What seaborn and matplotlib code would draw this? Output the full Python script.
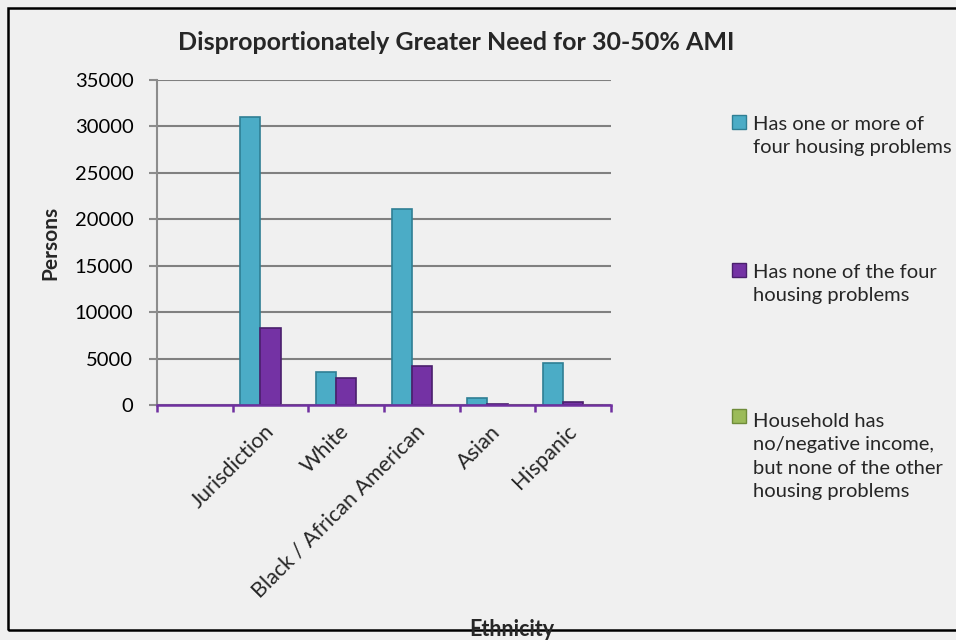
import numpy as np
import pandas as pd
import matplotlib
matplotlib.use("Agg")
import matplotlib.pyplot as plt
import seaborn as sns
from matplotlib.patches import Rectangle

# categories (first slot is left empty, as in the original chart)
ethnicity_order = ["", "Jurisdiction", "White", "Black / African American", "Asian", "Hispanic"]
groups = ["Jurisdiction", "White", "Black / African American", "Asian", "Hispanic"]

has_problems = [31000, 3600, 21100, 750, 4500]
no_problems = [8300, 2900, 4150, 150, 300]
no_income = [0, 0, 0, 0, 0]

series = ["Has one or more of four housing problems",
          "Has none of the four housing problems",
          "Household has no/negative income, but none of the other housing problems"]
legend_text = ["Has one or more of\nfour housing problems",
               "Has none of the four\nhousing problems",
               "Household has\nno/negative income,\nbut none of the other\nhousing problems"]
colors = ["#4bacc6", "#7432a4", "#9bbb59"]
edges = ["#2f7f94", "#4a1f6c", "#6f8c3a"]

df = pd.DataFrame({
    "Ethnicity": groups * 3,
    "Persons": has_problems + no_problems + no_income,
    "Series": [series[0]] * 5 + [series[1]] * 5 + [series[2]] * 5,
})

sns.set_style("white")
plt.rcParams['font.family'] = ['Lato', 'DejaVu Sans']

bg = "#f0f0f0"
fig = plt.figure(figsize=(9.56, 6.4), dpi=100, facecolor=bg)
ax = fig.add_axes([157/956, 235/640, 454/956, 325/640])
ax.set_facecolor(bg)

sns.barplot(df, x="Ethnicity", y="Persons", hue="Series", order=ethnicity_order,
            hue_order=series, palette=colors, saturation=1, legend=False, ax=ax,
            linewidth=1.2, zorder=3)

# darker outlines per series
for cont, ec in zip(ax.containers, edges):
    for bar in cont:
        bar.set_edgecolor(ec)

ax.set_ylim(0, 35000)
ax.set_yticks(np.arange(0, 35001, 5000))
ax.set_xlim(-0.5, 5.5)
ax.yaxis.grid(True, color="#808080", linewidth=1.5, zorder=0)
ax.set_axisbelow(True)
ax.set_xlabel("")
ax.set_ylabel("")

for s in ["top", "right"]:
    ax.spines[s].set_visible(False)
ax.spines["left"].set_color("#8c8c8c")
ax.spines["left"].set_linewidth(1.5)
ax.spines["bottom"].set_color("#7030a0")
ax.spines["bottom"].set_linewidth(1.8)
ax.spines["bottom"].set_zorder(4)

ax.tick_params(axis="y", length=6, width=1.5, color="#8c8c8c", pad=11,
               labelsize=14.5, labelcolor="black", left=True)
ax.set_xticks(np.arange(-0.5, 5.6, 1), minor=True)
ax.tick_params(axis="x", which="minor", length=5, width=1.8, color="#7030a0",
               direction="out", bottom=True)
ax.tick_params(axis="x", which="major", length=0, pad=17, labelsize=15.5)
for lab in ax.get_xticklabels():
    lab.set_rotation(45)
    lab.set_ha("right")
    lab.set_va("center")
    lab.set_rotation_mode("anchor")

fig.text(456/956, 1 - 42/640, "Disproportionately Greater Need for 30-50% AMI",
         ha="center", va="center", fontsize=18, fontweight="bold")
fig.text(50/956, 1 - 243/640, "Persons", rotation=90, ha="center", va="center",
         fontsize=15, fontweight="bold")

# chart border
fig.patches.append(Rectangle((8/956, 1 - 630/640), 960/956, 622/640,
                             transform=fig.transFigure, fill=False,
                             edgecolor="black", linewidth=1.8, zorder=1))
fig.text(512/956, 1 - 629/640, "Ethnicity", ha="center", va="center",
         fontsize=15.5, fontweight="bold", zorder=5)

# legend (baseline of the last line of each entry)
last_base = [153, 301, 497]
first_base = [128, 276, 422]
for txt, c, ec, yb, yf in zip(legend_text, colors, edges, last_base, first_base):
    fig.patches.append(Rectangle((732/956, 1 - (yf + 1)/640), 14/956, 14/640,
                                 transform=fig.transFigure, facecolor=c,
                                 edgecolor=ec, linewidth=1))
    fig.text(753/956, 1 - yb/640, txt, ha="left", va="baseline",
             fontsize=14.5, linespacing=1.45)

fig.savefig("out.png", dpi=100, facecolor=bg)
